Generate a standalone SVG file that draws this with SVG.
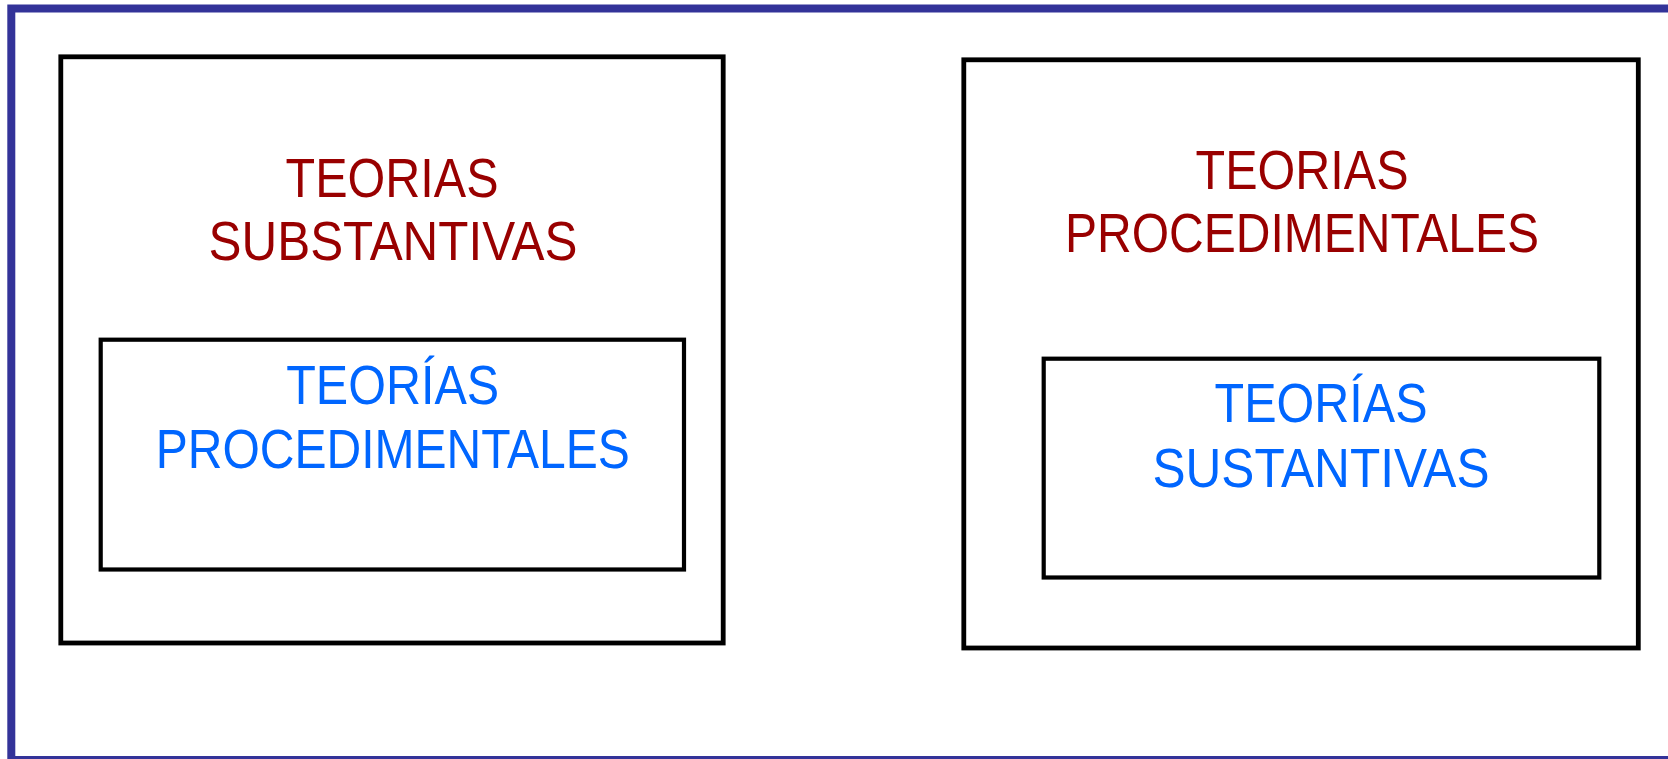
<svg xmlns="http://www.w3.org/2000/svg" width="1668" height="759" viewBox="0 0 1668 759">
<style>
.frame{fill:none;stroke:#333399;stroke-width:8}
.outer{fill:#ffffff;stroke:#000000;stroke-width:4.8}
.inner{fill:#ffffff;stroke:#000000;stroke-width:4.2}
.t{font-family:"Liberation Sans",Arial,sans-serif;font-size:55px;text-anchor:middle}
.red{fill:#990000}
.blue{fill:#0066ff}
</style>
<rect width="1668" height="759" fill="#ffffff"/>
<rect class="frame" x="11.3" y="8.5" width="1690" height="751.5"/>
<g id="left-outer">
<rect class="outer" x="60.8" y="56.8" width="662.4" height="586.2"/>
<text class="t red" x="392" y="197" textLength="213" lengthAdjust="spacingAndGlyphs">TEORIAS</text>
<text class="t red" x="393" y="260" textLength="369" lengthAdjust="spacingAndGlyphs">SUBSTANTIVAS</text>
</g>
<g id="left-inner">
<rect class="inner" x="100.7" y="339.7" width="583.3" height="229.8"/>
<text class="t blue" x="392.7" y="404" textLength="213" lengthAdjust="spacingAndGlyphs">TEORÍAS</text>
<text class="t blue" x="392.8" y="468.3" textLength="474" lengthAdjust="spacingAndGlyphs">PROCEDIMENTALES</text>
</g>
<g id="right-outer">
<rect class="outer" x="963.8" y="59.8" width="674.5" height="588.2"/>
<text class="t red" x="1302" y="188.5" textLength="213" lengthAdjust="spacingAndGlyphs">TEORIAS</text>
<text class="t red" x="1302" y="252.3" textLength="474" lengthAdjust="spacingAndGlyphs">PROCEDIMENTALES</text>
</g>
<g id="right-inner">
<rect class="inner" x="1043.7" y="358.7" width="555.6" height="218.8"/>
<text class="t blue" x="1321" y="422.3" textLength="213" lengthAdjust="spacingAndGlyphs">TEORÍAS</text>
<text class="t blue" x="1321" y="486.7" textLength="337" lengthAdjust="spacingAndGlyphs">SUSTANTIVAS</text>
</g>
<g id="connectors"/>
</svg>
